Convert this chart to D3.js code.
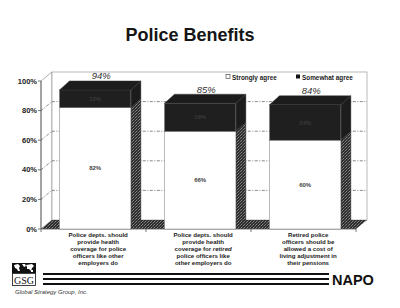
<!DOCTYPE html>
<html>
<head>
<meta charset="utf-8">
<script src="https://cdn.jsdelivr.net/npm/d3@7"></script>
<style>
  body { margin: 0; background: #fff; }
  svg text { font-family: "Liberation Sans", Arial, sans-serif; }
</style>
</head>
<body>
<div id="chart"></div>
<script>
// data
var categories = [
  ["Police depts. should", "provide health", "coverage for police", "officers like other", "employers do"],
  ["Police depts. should", "provide health", "coverage for *retired*", "police officers like", "other employers do"],
  ["Retired police", "officers should be", "allowed a cost of", "living adjustment in", "their pensions"]
];
var stronglyAgree = [82, 66, 60];
var somewhatAgree = [12, 19, 24];
var seriesNames = ["Strongly agree", "Somewhat agree"];
var yTicks = [0, 20, 40, 60, 80, 100];

var W = 400, H = 308;
var svg = d3.select("#chart").append("svg")
  .attr("width", W)
  .attr("height", H);

// speckled dark fill for the 3d sides / floor
var defs = svg.append("defs");
var pat = defs.append("pattern")
  .attr("id", "speckle")
  .attr("width", 3).attr("height", 3)
  .attr("patternUnits", "userSpaceOnUse");
pat.append("rect").attr("width", 3).attr("height", 3).attr("fill", "#2e2e2e");
pat.append("rect").attr("x", 0).attr("y", 0).attr("width", 1).attr("height", 1).attr("fill", "#7a7a7a");
pat.append("rect").attr("x", 2).attr("y", 1).attr("width", 1).attr("height", 1).attr("fill", "#5c5c5c");
pat.append("rect").attr("x", 1).attr("y", 2).attr("width", 1).attr("height", 1).attr("fill", "#888");

// title
svg.append("text")
  .attr("x", 190).attr("y", 41)
  .attr("text-anchor", "middle")
  .attr("font-size", 18).attr("font-weight", "bold")
  .attr("fill", "#151515")
  .text("Police Benefits");

var axisX = 41, axisX2 = 356;
var wx = 11, wy = -9;   // wall depth
var dx = 10, dy = -9;   // bar depth

var y = d3.scaleLinear().domain([0, 100]).range([229, 81]);
var x = d3.scaleBand().domain(d3.range(categories.length))
  .range([axisX, axisX2])
  .paddingInner(0.32).paddingOuter(0.16).align(0.55);
var bw = x.bandwidth();

// left wall + back wall
var g = svg.append("g");
g.append("polygon")
  .attr("points", [[axisX, y(0)], [axisX + wx, y(0) + wy], [axisX + wx, y(100) + wy], [axisX, y(100)]].join(" "))
  .attr("fill", "#fff").attr("stroke", "#8a8a8a").attr("stroke-width", 0.7);
g.append("rect")
  .attr("x", axisX + wx).attr("y", y(100) + wy)
  .attr("width", axisX2 - axisX).attr("height", y(0) - y(100))
  .attr("fill", "#fff").attr("stroke", "#9a9a9a").attr("stroke-width", 0.7);

// gridlines (dash-dot, running round the left wall to the back wall)
g.selectAll(".grid").data(yTicks.filter(function(t) { return t > 0 && t < 100; }))
  .enter().append("path")
  .attr("d", function(t) {
    return "M" + axisX + "," + y(t) + "L" + (axisX + wx) + "," + (y(t) + wy) +
      "L" + (axisX2 + wx) + "," + (y(t) + wy);
  })
  .attr("fill", "none").attr("stroke", "#555").attr("stroke-width", 0.7)
  .attr("stroke-dasharray", "3,1.5,1,1.5");

// floor
g.append("polygon")
  .attr("points", [[axisX, y(0)], [axisX + wx, y(0) + wy], [axisX2 + wx, y(0) + wy], [axisX2, y(0)]].join(" "))
  .attr("fill", "url(#speckle)");

// y axis
g.append("line")
  .attr("x1", axisX).attr("x2", axisX).attr("y1", y(0)).attr("y2", y(100))
  .attr("stroke", "#555").attr("stroke-width", 0.8);
g.selectAll(".ytick").data(yTicks).enter().append("line")
  .attr("x1", axisX - 3).attr("x2", axisX)
  .attr("y1", function(t) { return y(t); }).attr("y2", function(t) { return y(t); })
  .attr("stroke", "#555").attr("stroke-width", 0.8);
g.selectAll(".ylab").data(yTicks).enter().append("text")
  .attr("x", 37).attr("y", function(t) { return y(t); })
  .attr("dy", "0.35em")
  .attr("text-anchor", "end")
  .attr("font-size", 7.5).attr("font-weight", "bold").attr("fill", "#222")
  .text(function(t) { return t + "%"; });

// floor front edge + category ticks
g.append("line")
  .attr("x1", axisX).attr("x2", axisX2).attr("y1", y(0)).attr("y2", y(0))
  .attr("stroke", "#555").attr("stroke-width", 0.8);
var step = x.step();
g.selectAll(".xtick").data(d3.range(categories.length + 1)).enter().append("line")
  .attr("x1", function(k) { return axisX + k * step; })
  .attr("x2", function(k) { return axisX + k * step; })
  .attr("y1", y(0)).attr("y2", y(0) + 3)
  .attr("stroke", "#555").attr("stroke-width", 0.8);

// bars
var bars = categories.map(function(c, i) {
  return [
    { i: i, lo: 0, hi: stronglyAgree[i], v: stronglyAgree[i], dark: false },
    { i: i, lo: stronglyAgree[i], hi: stronglyAgree[i] + somewhatAgree[i], v: somewhatAgree[i], dark: true }
  ];
});

bars.forEach(function(segs, i) {
  var x0 = x(i), x1 = x(i) + bw;
  var bg = svg.append("g");
  segs.forEach(function(s) {
    // side face
    bg.append("polygon")
      .attr("points", [[x1, y(s.hi)], [x1 + dx, y(s.hi) + dy], [x1 + dx, y(s.lo) + dy], [x1, y(s.lo)]].join(" "))
      .attr("fill", s.dark ? "#1c1c1c" : "url(#speckle)")
      .attr("stroke", "#333").attr("stroke-width", 0.4);
    // front face
    bg.append("rect")
      .attr("x", x0).attr("y", y(s.hi))
      .attr("width", bw).attr("height", y(s.lo) - y(s.hi))
      .attr("fill", s.dark ? "#1f1f1f" : "#fff")
      .attr("stroke", "#7a7a7a").attr("stroke-width", 0.5);
    bg.append("text")
      .attr("x", x0 + bw / 2).attr("y", (y(s.lo) + y(s.hi)) / 2)
      .attr("dy", "0.35em")
      .attr("text-anchor", "middle")
      .attr("font-size", 6).attr("font-weight", "bold")
      .attr("fill", s.dark ? "#3a3a3a" : "#444")
      .text(s.v + "%");
  });
  var top = segs[segs.length - 1].hi;
  bg.append("polygon")
    .attr("points", [[x0, y(top)], [x0 + dx, y(top) + dy], [x1 + dx, y(top) + dy], [x1, y(top)]].join(" "))
    .attr("fill", "#1c1c1c").attr("stroke", "#333").attr("stroke-width", 0.4);
  // total on top
  bg.append("text")
    .attr("x", x0 + bw / 2 + dx / 2 + 1).attr("y", y(top) + dy - 1.5)
    .attr("text-anchor", "middle")
    .attr("font-size", 9.5).attr("font-style", "italic")
    .attr("fill", "#333")
    .text(top + "%");
});

// legend
var leg = svg.append("g").attr("font-size", 6.4).attr("font-weight", "bold").attr("fill", "#222");
leg.append("rect").attr("x", 226).attr("y", 74.5).attr("width", 4).attr("height", 4)
  .attr("fill", "#fff").attr("stroke", "#333").attr("stroke-width", 0.6);
leg.append("text").attr("x", 232).attr("y", 79.5).text(seriesNames[0]);
leg.append("rect").attr("x", 296).attr("y", 74.5).attr("width", 4).attr("height", 4)
  .attr("fill", "#111");
leg.append("text").attr("x", 302).attr("y", 79.5).text(seriesNames[1]);

// category labels (words between * are italic)
categories.forEach(function(lines, i) {
  var t = svg.append("text")
    .attr("text-anchor", "middle")
    .attr("font-size", 6.1).attr("font-weight", "bold").attr("fill", "#222");
  lines.forEach(function(line, k) {
    var ln = t.append("tspan")
      .attr("x", x(i) + bw / 2 + 3)
      .attr("y", 236.5 + k * 7.1);
    line.split("*").forEach(function(part, p) {
      if (!part) return;
      ln.append("tspan").attr("font-style", p % 2 ? "italic" : null).text(part);
    });
  });
});

// footer: logo, rules, NAPO
var f = svg.append("g");
f.append("rect").attr("x", 12).attr("y", 263).attr("width", 24).attr("height", 10).attr("fill", "#111");
f.append("path")
  .attr("d", "M14,265 l4,-1 l2,2 l-1,2 l1,3 l-2,0 l-1,-2 l-2,-1 z M22,264 l3,0 l1,2 l-2,1 z M26,265 l6,-1 l2,2 l-2,2 l-1,3 l-2,-2 l-2,0 l0,-2 z M31,270 l2,0 l0,2 l-2,0 z")
  .attr("fill", "#fff");
f.append("rect").attr("x", 12.5).attr("y", 273.5).attr("width", 23).attr("height", 12)
  .attr("fill", "#fff").attr("stroke", "#111").attr("stroke-width", 0.8);
f.append("text").attr("x", 24).attr("y", 283.5).attr("text-anchor", "middle")
  .style("font-family", "'Liberation Serif', serif")
  .attr("font-size", 10).attr("fill", "#111").text("GSG");
f.append("text").attr("x", 15).attr("y", 294)
  .attr("font-size", 6).attr("font-style", "italic").attr("fill", "#333")
  .text("Global Strategy Group, Inc.");
f.selectAll(".rule").data([273, 278, 283]).enter().append("rect")
  .attr("x", 43).attr("y", function(d) { return d; })
  .attr("width", 286).attr("height", 2)
  .attr("fill", "#111");
f.append("text").attr("x", 332).attr("y", 285)
  .attr("font-size", 14.5).attr("font-weight", "bold").attr("fill", "#111")
  .text("NAPO");
</script>
</body>
</html>
